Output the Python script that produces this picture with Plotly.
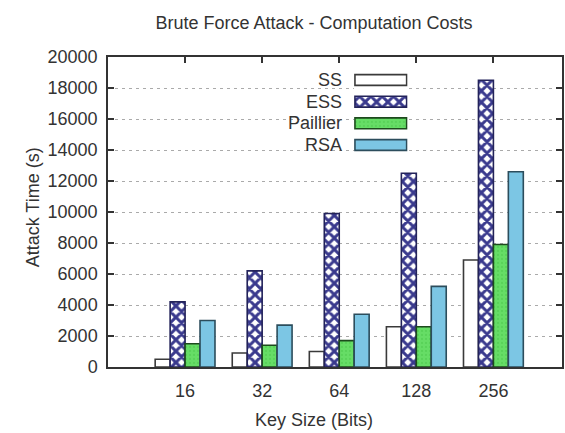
import plotly.graph_objects as go

# Key sizes (bits) and measured attack times (seconds) per scheme
key_sizes = ["16", "32", "64", "128", "256"]
ss_times = [500, 900, 1000, 2600, 6900]
ess_times = [4200, 6200, 9900, 12500, 18500]
paillier_times = [1500, 1400, 1700, 2600, 7900]
rsa_times = [3000, 2700, 3400, 5200, 12600]

series_names = ["SS", "ESS", "Paillier", "RSA"]
y_ticks = list(range(0, 20001, 2000))

W, H = 565, 433
L, R, T, B = 108, 1, 57, 66
PW, PH = W - L - R, H - T - B


def px_x(p):
    return (p - L) / PW


def px_y(p):
    return (H - B - p) / PH


FONT = "Liberation Sans, Arial, sans-serif"
TXT = "#333333"

styles = {
    "SS": dict(marker=dict(color="white", line=dict(color="#3a3a3a", width=1.6))),
    "ESS": dict(marker=dict(color="white",
                            pattern=dict(shape="x", fgcolor="#3a3a8e", bgcolor="white",
                                         size=8, solidity=0.6, fillmode="replace"),
                            line=dict(color="#23235a", width=1.6))),
    "Paillier": dict(marker=dict(color="#62d962",
                                 pattern=dict(shape=".", fgcolor="#4cc54c", bgcolor="#66dd66",
                                              size=4, solidity=0.25),
                                 line=dict(color="#1d4a1d", width=1.6))),
    "RSA": dict(marker=dict(color="#7cc6e4", line=dict(color="#2c4d5c", width=1.6))),
}

values = {"SS": ss_times, "ESS": ess_times, "Paillier": paillier_times, "RSA": rsa_times}

fig = go.Figure()
for name in series_names:
    fig.add_trace(go.Bar(x=key_sizes, y=values[name], name=name,
                         showlegend=False, xaxis="x", yaxis="y", **styles[name]))

# Key swatches drawn as short horizontal bars on a small overlay axis
for name in series_names:
    fig.add_trace(go.Bar(x=[1], y=[name], orientation="h", width=0.5,
                         showlegend=False, hoverinfo="skip",
                         xaxis="x2", yaxis="y2", **styles[name]))

annotations = []
for name in series_names:
    annotations.append(dict(text=name, xref="paper", yref="y2", x=px_x(345), y=name,
                            xanchor="right", yanchor="middle", showarrow=False,
                            font=dict(family=FONT, size=18, color=TXT)))

annotations.append(dict(text="Key Size (Bits)", xref="paper", yref="paper",
                        x=px_x(315), y=px_y(420), xanchor="center", yanchor="middle",
                        showarrow=False, font=dict(family=FONT, size=18, color=TXT)))
annotations.append(dict(text="Attack Time (s)", xref="paper", yref="paper",
                        x=px_x(33), y=px_y(207), xanchor="center", yanchor="middle",
                        textangle=-90, showarrow=False,
                        font=dict(family=FONT, size=18, color=TXT)))

fig.update_layout(
    width=W, height=H,
    margin=dict(l=L, r=R, t=T, b=B),
    paper_bgcolor="white", plot_bgcolor="white",
    barmode="group", bargap=0.224, bargroupgap=0,
    font=dict(family=FONT, size=18, color=TXT),
    title=dict(text="Brute Force Attack - Computation Costs", x=314 / W, xanchor="center",
               y=1 - 23 / H, yanchor="middle", xref="container", yref="container",
               font=dict(family=FONT, size=18, color=TXT)),
    xaxis=dict(type="category", categoryorder="array", categoryarray=key_sizes,
               range=[-1.0, 4.89], showgrid=False, showline=True, linecolor="#333",
               linewidth=1.5, mirror="ticks", ticks="inside", ticklen=6,
               tickcolor="#333", tickwidth=1.5, layer="below traces",
               tickfont=dict(family=FONT, size=18, color=TXT), ticklabelstandoff=7),
    yaxis=dict(range=[0, 20000], tickvals=y_ticks, ticktext=[str(v) for v in y_ticks],
               showgrid=True, gridcolor="#aaaaaa", griddash="3px,4px", gridwidth=1,
               showline=True, linecolor="#333", linewidth=1.5, mirror="ticks",
               ticks="inside", ticklen=6, tickcolor="#333", tickwidth=1.5,
               zeroline=False, tickfont=dict(family=FONT, size=18, color=TXT),
               ticklabelstandoff=5),
    xaxis2=dict(domain=[px_x(355), px_x(409)], anchor="y2", range=[-0.02, 1.02],
                visible=False, fixedrange=True),
    yaxis2=dict(domain=[px_y(157), px_y(68)], anchor="x2", type="category",
                categoryorder="array", categoryarray=series_names[::-1],
                visible=False, fixedrange=True),
    shapes=[dict(type="rect", xref="paper", yref="paper",
                 x0=px_x(263), x1=px_x(418), y0=px_y(159), y1=px_y(60),
                 fillcolor="white", line=dict(width=0), layer="between")],
    annotations=annotations,
)

fig.write_html("out.html")
